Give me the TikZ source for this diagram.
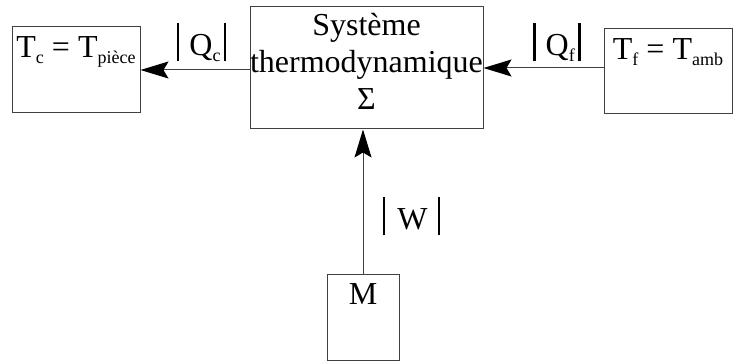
\documentclass[tikz,border=0pt]{standalone}
\usepackage{fontspec}
\setmainfont{Liberation Serif}
\usetikzlibrary{arrows.meta, positioning}
\newcommand{\sub}[1]{\raisebox{-3pt}{\fontsize{9}{9}\selectfont #1}}
\newcommand{\vbar}{\rule[-3pt]{1.4pt}{19pt}}

\begin{document}
\begin{tikzpicture}[
    x=0.5pt, y=-0.5pt,
    >={Stealth[length=14pt, width=8.5pt, inset=2.5pt, black]},
    reservoir/.style={draw=black!75, line width=0.5pt, inner sep=0pt,
                      text height=15.5pt, text depth=27.5pt,
                      font=\fontsize{16}{18}\selectfont},
    systeme/.style={draw=black!75, line width=0.5pt, inner sep=0pt,
                    minimum width=116.5pt, align=center,
                    text height=51.5pt, text depth=9.5pt,
                    font=\fontsize{16}{18.5}\selectfont},
    flux/.style={->, draw=black!75, line width=0.5pt},
    transfert/.style={font=\fontsize{16}{18}\selectfont}
  ]
  \useasboundingbox (0,0) rectangle (739,363);

  % Central system
  \node[systeme] (sys) at (366.5,68) {Système\\thermodynamique\\Σ};

  % Reservoirs and motor
  \node[reservoir, minimum width=64pt] (tc) at (76,70)
    {T\sub{c} = T\sub{pièce}};
  \node[reservoir, minimum width=64pt, text depth=27pt] (tf) at (668,71.5)
    {T\sub{f} = T\sub{amb}};
  \node[reservoir, minimum width=36pt, text height=15pt] (m) at (363,317.5)
    {M};

  % Energy transfers
  \draw[flux] (sys.west |- tc.east) -- node[transfert, pos=0.44, above, inner sep=4pt]
    {\vbar\hspace{5pt}Q\sub{c}\hspace{1.5pt}\vbar} (tc.east);
  \draw[flux] (tf.west |- sys.east) -- node[transfert, pos=0.39, above, inner sep=3pt]
    {\vbar\hspace{5pt}Q\sub{f}\hspace{1.5pt}\vbar} (sys.east);
  \draw[flux] (m.north) -- node[transfert, pos=0.4, right, inner sep=0pt, xshift=9.5pt]
    {\vbar\hspace{6pt}W\hspace{5pt}\vbar} (m.north |- sys.south);

\end{tikzpicture}
\end{document}
